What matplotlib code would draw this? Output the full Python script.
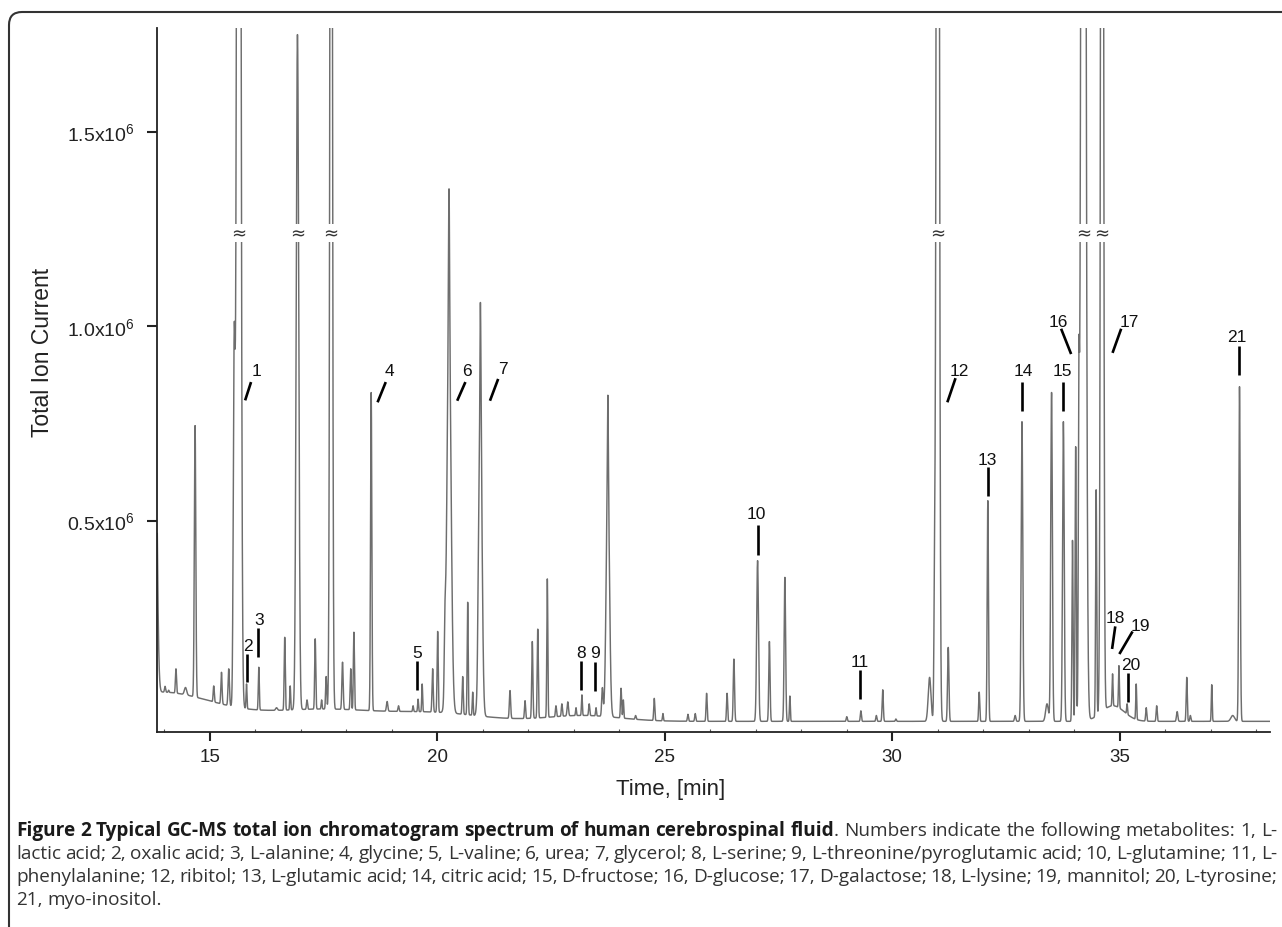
"""GC-MS total ion chromatogram of human CSF (Figure 2 recreation)."""
import matplotlib
matplotlib.use("Agg")
import matplotlib.pyplot as plt
from matplotlib.patches import FancyBboxPatch
from matplotlib.ticker import MultipleLocator
import numpy as np

plt.rcParams["font.family"] = ["Liberation Sans", "DejaVu Sans"]
plt.rcParams["mathtext.fontset"] = "custom"
plt.rcParams["mathtext.rm"] = "Liberation Sans"

# --------------------------------------------------------------------------- #
# data (time in min, intensity in 1e6 counts)
# --------------------------------------------------------------------------- #
base_offset = -0.015
base_time = [13.9, 17.5, 20.0, 23.2, 34.85]
base_height = [0.075, 0.03, 0.02, 0.015, 0.04]
base_width = [1.2, 1.2, 1.0, 0.8, 0.25]

peak_time = [13.80, 14.02, 14.10, 14.26, 14.47, 14.68, 15.09, 15.26, 15.42, 15.54,
             15.64, 15.81, 16.08, 16.47, 16.65, 16.77, 16.93, 17.14, 17.32, 17.46,
             17.56, 17.67, 17.92, 18.10, 18.17, 18.55, 18.90, 19.15, 19.47, 19.58,
             19.67, 19.90, 20.01, 20.17, 20.26, 20.26, 20.56, 20.67, 20.78, 20.90,
             20.95, 20.95, 21.60, 21.93, 22.09, 22.21, 22.42, 22.61, 22.74, 22.87,
             23.05, 23.18, 23.34, 23.49, 23.63, 23.75, 23.75, 24.04, 24.09, 24.36,
             24.77, 24.96, 25.51, 25.67, 25.92, 26.37, 26.52, 27.04, 27.30, 27.64,
             27.75, 29.00, 29.31, 29.65, 29.79, 30.08, 30.82, 30.93, 31.00, 31.23,
             31.91, 32.10, 32.70, 32.85, 33.40, 33.50, 33.76, 33.96, 34.03, 34.10,
             34.20, 34.48, 34.61, 34.84, 34.98, 35.16, 35.36, 35.58, 35.81, 36.26,
             36.47, 36.55, 37.02, 37.48, 37.63]
peak_top = [0.95, 0.075, 0.065, 0.12, 0.072, 0.745, 0.076, 0.111, 0.12, 0.92,
            6.0, 0.081, 0.124, 0.02, 0.201, 0.076, 1.75, 0.04, 0.197, 0.04,
            0.10, 4.0, 0.137, 0.12, 0.214, 0.83, 0.036, 0.025, 0.025, 0.042,
            0.081, 0.12, 0.216, 0.15, 1.0, 0.36, 0.10, 0.291, 0.06, 0.09,
            0.80, 0.26, 0.064, 0.038, 0.19, 0.222, 0.351, 0.025, 0.03, 0.035,
            0.02, 0.053, 0.03, 0.02, 0.07, 0.62, 0.20, 0.07, 0.04, 0.0,
            0.044, 0.005, 0.003, 0.005, 0.057, 0.057, 0.145, 0.398, 0.19, 0.355,
            0.05, -0.003, 0.012, 0.0, 0.066, -0.009, 0.098, 0.304, 5.0, 0.175,
            0.06, 0.552, 0.0, 0.755, 0.03, 0.83, 0.755, 0.45, 0.69, 0.68,
            6.0, 0.58, 5.0, 0.107, 0.128, 0.03, 0.081, 0.02, 0.025, 0.01,
            0.098, 0.0, 0.079, 0.0, 0.845]
peak_width = [0.04, 0.012, 0.01, 0.012, 0.025, 0.016, 0.012, 0.013, 0.015, 0.02,
              0.034, 0.01, 0.011, 0.02, 0.012, 0.01, 0.028, 0.012, 0.012, 0.01,
              0.012, 0.023, 0.014, 0.012, 0.012, 0.014, 0.015, 0.012, 0.01, 0.01,
              0.01, 0.013, 0.012, 0.015, 0.045, 0.012, 0.012, 0.011, 0.01, 0.01,
              0.035, 0.01, 0.014, 0.012, 0.013, 0.012, 0.011, 0.012, 0.012, 0.015,
              0.01, 0.01, 0.012, 0.01, 0.015, 0.035, 0.009, 0.012, 0.01, 0.012,
              0.012, 0.01, 0.012, 0.012, 0.012, 0.012, 0.014, 0.02, 0.014, 0.016,
              0.01, 0.012, 0.012, 0.012, 0.013, 0.012, 0.03, 0.015, 0.027, 0.015,
              0.012, 0.014, 0.015, 0.018, 0.03, 0.018, 0.018, 0.012, 0.012, 0.012,
              0.04, 0.012, 0.025, 0.01, 0.01, 0.01, 0.01, 0.012, 0.012, 0.015,
              0.012, 0.012, 0.01, 0.04, 0.016]

# off-scale peaks carry a break mark
break_time = [15.64, 16.93, 17.67, 31.00, 34.20, 34.61]
break_level = 1.24

# numbered metabolites: label, text position, leader line (top -> bottom)
labels = [str(i) for i in range(1, 22)]
label_pos = [(16.04, 0.886), (15.85, 0.179), (16.09, 0.248), (18.96, 0.886),
             (19.57, 0.162), (20.66, 0.886), (21.44, 0.893), (23.16, 0.162),
             (23.47, 0.162), (27.01, 0.518), (29.29, 0.138), (31.48, 0.886),
             (32.09, 0.659), (32.89, 0.886), (33.73, 0.886), (33.64, 1.012),
             (35.21, 1.012), (34.90, 0.251), (35.45, 0.231), (35.24, 0.130),
             (37.58, 0.974)]
leaders = [(15.91, 0.857, 15.78, 0.81), (15.82, 0.158, 15.82, 0.085),
           (16.07, 0.224, 16.07, 0.15), (18.87, 0.857, 18.69, 0.805),
           (19.56, 0.139, 19.56, 0.066), (20.62, 0.857, 20.44, 0.809),
           (21.34, 0.865, 21.16, 0.809), (23.16, 0.14, 23.16, 0.066),
           (23.47, 0.138, 23.47, 0.064), (27.04, 0.49, 27.04, 0.413),
           (29.30, 0.117, 29.30, 0.042), (31.39, 0.867, 31.21, 0.805),
           (32.10, 0.638, 32.10, 0.565), (32.85, 0.858, 32.85, 0.782),
           (33.75, 0.858, 33.75, 0.782), (33.71, 0.994, 33.93, 0.929),
           (35.03, 0.994, 34.84, 0.932), (34.90, 0.229, 34.83, 0.171),
           (35.28, 0.216, 34.99, 0.158), (35.17, 0.108, 35.17, 0.034),
           (37.62, 0.95, 37.62, 0.875)]

ytick_vals = [0.5, 1.0, 1.5]
ytick_labels = [r"0.5x10$^{6}$", r"1.0x10$^{6}$", r"1.5x10$^{6}$"]

caption = [
    [("Figure 2 Typical GC-MS total ion chromatogram spectrum of human cerebrospinal fluid", "bold"),
     (". Numbers indicate the following metabolites: 1, L-", "normal")],
    [("lactic acid; 2, oxalic acid; 3, L-alanine; 4, glycine; 5, L-valine; 6, urea; 7, glycerol; "
      "8, L-serine; 9, L-threonine/pyroglutamic acid; 10, L-glutamine; 11, L-", "normal")],
    [("phenylalanine; 12, ribitol; 13, L-glutamic acid; 14, citric acid; 15, D-fructose; "
      "16, D-glucose; 17, D-galactose; 18, L-lysine; 19, mannitol; 20, L-tyrosine;", "normal")],
    [("21, myo-inositol.", "normal")],
]


def gauss(t, c, h, w):
    return h * np.exp(-0.5 * ((t - c) / w) ** 2)


def baseline(t):
    b = np.full_like(np.asarray(t, dtype=float), base_offset)
    for c, h, w in zip(base_time, base_height, base_width):
        b = b + gauss(t, c, h, w)
    return b


t = np.arange(13.85, 38.31, 0.002)
trace = baseline(t)
for c, top, w in zip(peak_time, peak_top, peak_width):
    trace = trace + gauss(t, c, top - baseline(c), w)

W, H = 1282, 928
fig = plt.figure(figsize=(W / 100, H / 100), dpi=100)
ax = fig.add_axes([157.3 / W, 1 - 733 / H, (1270 - 157.3) / W, (733 - 29) / H])

ax.plot(t, trace, color="#6e6e6e", lw=1.05, zorder=2)
ax.set_xlim(13.85, 38.30)
ax.set_ylim(-0.0424, 1.767)

for bt in break_time:
    ax.text(bt, break_level, "\u2248", ha="center", va="center", fontsize=13,
            color="#333333", zorder=4, family="DejaVu Sans",
            bbox=dict(boxstyle="square,pad=0.0", fc="white", ec="none"))

for lab, (tx, ty), (x0, y0, x1, y1) in zip(labels, label_pos, leaders):
    ax.plot([x0, x1], [y0, y1], color="black", lw=1.9, solid_capstyle="butt", zorder=5)
    ax.text(tx, ty, lab, ha="center", va="center", fontsize=12.5, color="#111111", zorder=5)

for s in ("top", "right"):
    ax.spines[s].set_visible(False)
for s in ("left", "bottom"):
    ax.spines[s].set_linewidth(1.3)
    ax.spines[s].set_color("#222222")

ax.set_yticks(ytick_vals)
ax.set_yticklabels(ytick_labels)
ax.xaxis.set_major_locator(MultipleLocator(5))
ax.xaxis.set_minor_locator(MultipleLocator(1))
ax.tick_params(axis="y", direction="out", length=7, width=1.5, pad=9, labelsize=14,
               colors="#222222")
ax.tick_params(axis="x", which="major", direction="out", length=6.5, width=1.5, pad=5,
               labelsize=13.5, colors="#222222")
ax.tick_params(axis="x", which="minor", direction="in", length=2, width=0.8, colors="#555555")

fig.text(670.5 / W, 1 - 790 / H, "Time, [min]", ha="center", va="center", fontsize=16,
         color="#222222")
fig.text(43 / W, 1 - 352 / H, "Total Ion Current", ha="center", va="center",
         rotation=90, fontsize=16.5, color="#222222")

# frame: top and left edges with a rounded corner
fig.add_artist(FancyBboxPatch((9, -40), 1400, H - 13 + 40,
                              boxstyle="round,pad=0,rounding_size=13",
                              transform=None, fc="none", ec="#333333", lw=1.5))

# justified caption, word by word
renderer = fig.canvas.get_renderer()
cap_left, cap_right = 16, 1277
cap_base = [836, 859, 882, 905]
cap_family = ["Open Sans", "DejaVu Sans"]


def split_words(segments):
    groups = []
    for text, weight in segments:
        for k, word in enumerate(text.split(" ")):
            if word == "":
                continue
            if k == 0 and groups and not text.startswith(" "):
                groups[-1].append((word, weight))
            else:
                groups.append([(word, weight)])
    return groups


def word_width(word, weight, fs):
    txt = fig.text(0, 0, word, fontsize=fs, fontweight=weight, family=cap_family,
                   transform=None)
    w = txt.get_window_extent(renderer).width
    txt.remove()
    return w


# font size chosen so the first line fills the column at normal word spacing
fs0 = 12
g1 = split_words(caption[0])
nat = sum(word_width(wd, wt, fs0) for g in g1 for wd, wt in g)
nat += (len(g1) - 1) * 0.26 * fs0 * 100 / 72
cap_fs = fs0 * (cap_right - cap_left) / nat

for li, segments in enumerate(caption):
    items = []
    total = 0
    for g in split_words(segments):
        pieces = []
        for word, weight in g:
            txt = fig.text(0, 0, word, fontsize=cap_fs, fontweight=weight,
                           family=cap_family,
                           color="#1a1a1a" if weight == "bold" else "#333333",
                           va="baseline", ha="left", transform=None)
            w = txt.get_window_extent(renderer).width
            pieces.append((txt, w))
            total += w
        items.append(pieces)
    if li < len(caption) - 1:
        gap = (cap_right - cap_left - total) / (len(items) - 1)
    else:
        gap = 0.26 * cap_fs * 100 / 72
    x = cap_left
    for pieces in items:
        for txt, w in pieces:
            txt.set_position((x, H - cap_base[li]))
            x += w
        x += gap

fig.savefig("out.png", dpi=100)
